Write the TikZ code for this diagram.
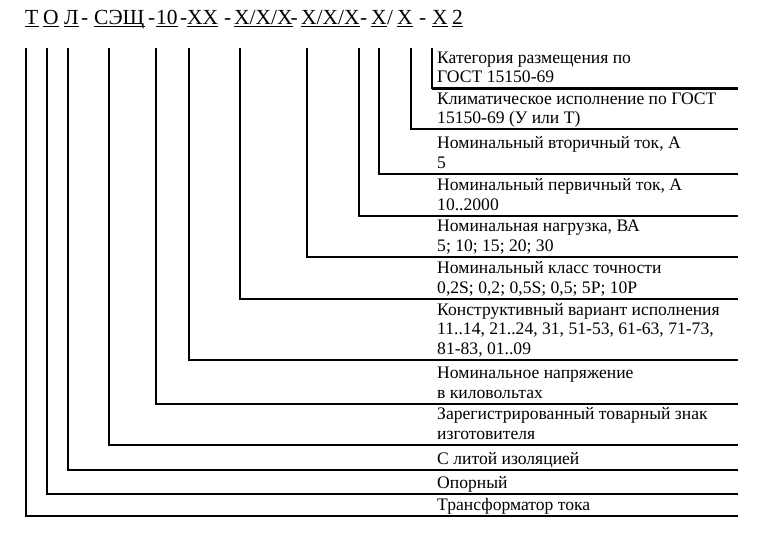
\documentclass[tikz,border=0pt]{standalone}
\usepackage{fontspec}
\setmainfont{Liberation Serif}
\begin{document}
\begin{tikzpicture}[x=1pt,y=-1pt,
  thickline/.style={line width=2.3pt},
  thinline/.style={line width=1.2pt},
  midline/.style={line width=1.6pt},
  lbl/.style={anchor=base west,inner sep=0pt,font=\fontsize{17.6}{20}\selectfont},
  ttl/.style={anchor=base west,inner sep=0pt,font=\fontsize{21.5}{25}\selectfont},
  ul/.style={line width=1.1pt}]
\useasboundingbox (0,0) rectangle (759,539);
\fill[white] (0,0) rectangle (759,539);
% title
\node[ttl] (nT) at (25,24) {Т};
\node[ttl] (nO) at (43,24) {О};
\node[ttl] (nL) at (64,24) {Л};
\node[ttl] (d1) at (81,24) {-};
\node[ttl] (nS) at (94,24) {СЭЩ};
\node[ttl] (d2) at (148,24) {-};
\node[ttl] (n10) at (156,24) {10};
\node[ttl] (d3) at (180,24) {-};
\node[ttl] (nXX) at (187,24) {ХХ};
\node[ttl] (d4) at (224,24) {-};
\node[ttl] (nA) at (234,24) {Х/Х/Х};
\node[ttl] (d5) at (290.5,24) {-};
\node[ttl] (nB) at (301,24) {Х/Х/Х};
\node[ttl] (d6) at (360,24) {-};
\node[ttl] (nC) at (371,24) {Х};
\node[ttl] (d7) at (387,24) {/};
\node[ttl] (nD) at (397,24) {Х};
\node[ttl] (d8) at (419,24) {-};
\node[ttl] (nE) at (432,24) {Х};
\node[ttl] (n2) at (452,24) {2};
\foreach \n in {nT,nO,nL,nS,n10,nXX,nA,nB,nC,nD,nE,n2}
  \draw[ul] ([yshift=-2.5pt]\n.base west) -- ([yshift=-2.5pt]\n.base east);
% labels
\node[lbl] (cat1) at (437,63) {Категория размещения по};
\node[lbl] (cat2) at (437,82.5) {ГОСТ 15150-69};
\node[lbl] (cli1) at (437,104) {Климатическое исполнение по ГОСТ};
\node[lbl] (cli2) at (437,123) {15150-69 (У или Т)};
\node[lbl] (sec1) at (437,148.5) {Номинальный вторичный ток, А};
\node[lbl] (sec2) at (437,168) {5};
\node[lbl] (pri1) at (437,190.5) {Номинальный первичный ток, А};
\node[lbl] (pri2) at (437,210) {10..2000};
\node[lbl] (lod1) at (437,231.5) {Номинальная нагрузка, ВА};
\node[lbl] (lod2) at (437,251) {5; 10; 15; 20; 30};
\node[lbl] (cls1) at (437,273.5) {Номинальный класс точности};
\node[lbl] (cls2) at (437,293) {0,2S; 0,2; 0,5S; 0,5; 5P; 10P};
\node[lbl] (con1) at (437,315) {Конструктивный вариант исполнения};
\node[lbl] (con2) at (437,334.5) {11..14, 21..24, 31, 51-53, 61-63, 71-73,};
\node[lbl] (con3) at (437,354) {81-83, 01..09};
\node[lbl] (vol1) at (437,378.5) {Номинальное напряжение};
\node[lbl] (vol2) at (437,398) {в киловольтах};
\node[lbl] (trm1) at (437,419.5) {Зарегистрированный товарный знак};
\node[lbl] (trm2) at (437,439) {изготовителя};
\node[lbl] (cst1) at (437,464) {С литой изоляцией};
\node[lbl] (sup1) at (437,488) {Опорный};
\node[lbl] (trf1) at (437,510) {Трансформатор тока};
% connector ends
\coordinate (t1) at (26,48);   \coordinate (e1) at (738,516);
\coordinate (t2) at (47,48);   \coordinate (e2) at (738,494);
\coordinate (t3) at (68,48);   \coordinate (e3) at (738,470);
\coordinate (t4) at (109,48);  \coordinate (e4) at (738,445);
\coordinate (t5) at (156,48);  \coordinate (e5) at (738,404);
\coordinate (t6) at (189,48);  \coordinate (e6) at (738,360);
\coordinate (t7) at (240,48);  \coordinate (e7) at (738,299);
\coordinate (t8) at (307,48);  \coordinate (e8) at (738,257);
\coordinate (t9) at (359,48);  \coordinate (e9) at (738,216);
\coordinate (t10) at (379,48); \coordinate (m10) at (379,129); \coordinate (e10) at (738,174);
\coordinate (t11) at (411,48); \coordinate (e11) at (738,129);
\coordinate (t12) at (432,48); \coordinate (m12) at (432,88.5); \coordinate (e12) at (738,88.5);
\draw[thickline] (t1) |- (e1);
\draw[thickline] (t2) |- (e2);
\draw[thickline] (t3) |- (e3);
\draw[thinline] (t4) |- (e4);
\draw[thickline] (t5) |- (e5);
\draw[thinline] (t6) |- (e6);
\draw[thickline] (t7) |- (e7);
\draw[thickline] (t8) |- (e8);
\draw[thickline] (t9) |- (e9);
\draw[thickline] (t10) -- (m10);
\draw[thinline] (m10) |- (e10);
\draw[thickline] (t11) |- (e11);
\draw[midline] (t12) -- (m12);
\draw[thickline] (m12) -- (e12);
\end{tikzpicture}
\end{document}
